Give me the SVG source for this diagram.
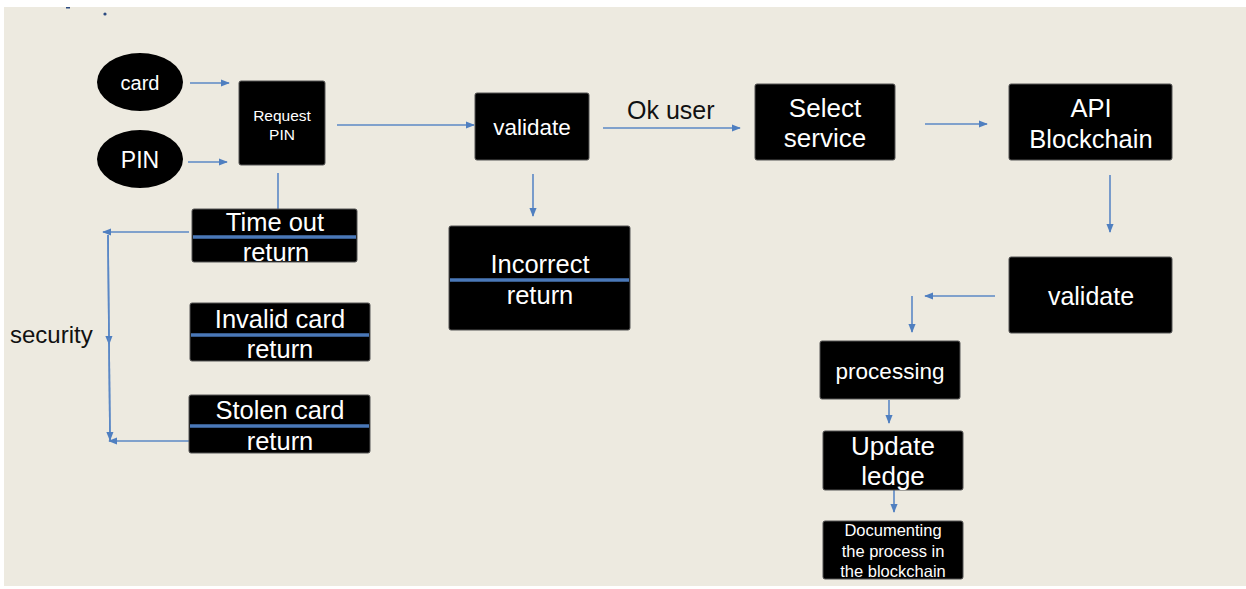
<svg xmlns="http://www.w3.org/2000/svg" width="1246" height="589" viewBox="0 0 1246 589">
  <defs>
    <marker id="arr" viewBox="0 0 10 10" refX="9" refY="5" markerWidth="9" markerHeight="9" orient="auto" markerUnits="userSpaceOnUse">
      <path d="M0,1 L10,5 L0,9 z" fill="#4f7fc0"/>
    </marker>
    <style>
      .box { fill: #000; stroke: #555; stroke-width: 1; }
      .t { fill: #fff; font-family: "Liberation Sans", Arial, sans-serif; text-anchor: middle; dominant-baseline: central; }
      .lbl { fill: #111; font-family: "Liberation Sans", Arial, sans-serif; }
      .sep { stroke: #4a78b8; stroke-width: 3.5; }
      .c { stroke: #5b88c6; stroke-width: 1.6; fill: none; }
      .c.a { marker-end: url(#arr); }
    </style>
  </defs>

  <rect width="1246" height="589" fill="#fff"/>
  <rect x="4" y="7" width="1242" height="579" fill="#edeae0"/>
  <circle cx="105" cy="14" r="1.6" fill="#2b4a80"/>
  <rect x="66" y="7" width="4" height="1.5" fill="#2b4a80"/>

  <!-- connectors -->
  <g id="connectors">
    <line class="c a" x1="190" y1="83" x2="229" y2="83"/>
    <line class="c a" x1="188" y1="162" x2="227" y2="162"/>
    <line class="c a" x1="337" y1="125" x2="474" y2="125"/>
    <line class="c a" x1="278" y1="173" x2="278" y2="217"/>
    <line class="c a" x1="189" y1="232" x2="103" y2="232"/>
    <line class="c" x1="108" y1="235" x2="110" y2="441"/>
    <line class="c a" x1="108" y1="235" x2="109" y2="344"/>
    <line class="c a" x1="109" y1="338" x2="110" y2="440"/>
    <line class="c a" x1="194" y1="441" x2="109" y2="441"/>
    <line class="c a" x1="533" y1="174" x2="533" y2="216"/>
    <line class="c a" x1="603" y1="128" x2="740" y2="128"/>
    <line class="c a" x1="925" y1="124" x2="987" y2="124"/>
    <line class="c a" x1="1110" y1="175" x2="1110" y2="232"/>
    <line class="c a" x1="995" y1="296" x2="925" y2="296"/>
    <line class="c a" x1="912" y1="296" x2="912" y2="332"/>
    <line class="c a" x1="889" y1="400" x2="889" y2="423"/>
    <line class="c a" x1="894" y1="490" x2="894" y2="512"/>
  </g>

  <g id="card">
    <ellipse cx="140" cy="82" rx="43" ry="29" fill="#000"/>
    <text class="t" x="140" y="83" font-size="20">card</text>
  </g>
  <g id="pin">
    <ellipse cx="140" cy="159" rx="43" ry="29" fill="#000"/>
    <text class="t" x="140" y="160" font-size="23">PIN</text>
  </g>
  <g id="request-pin">
    <rect class="box" x="239" y="81" width="86" height="84" rx="2"/>
    <text class="t" x="282" y="115" font-size="15.5">Request</text>
    <text class="t" x="282" y="134" font-size="15.5">PIN</text>
  </g>
  <g id="timeout">
    <rect class="box" x="192" y="209" width="165" height="53" rx="2"/>
    <line class="sep" x1="193" y1="237" x2="356" y2="237"/>
    <text class="t" x="275" y="222" font-size="25.5">Time out</text>
    <text class="t" x="276" y="252" font-size="25.5">return</text>
  </g>
  <g id="invalid-card">
    <rect class="box" x="190" y="303" width="180" height="58" rx="2"/>
    <line class="sep" x1="191" y1="335" x2="369" y2="335"/>
    <text class="t" x="280" y="319" font-size="25.5">Invalid card</text>
    <text class="t" x="280" y="349" font-size="25.5">return</text>
  </g>
  <g id="stolen-card">
    <rect class="box" x="189" y="395" width="181" height="58" rx="2"/>
    <line class="sep" x1="190" y1="426" x2="369" y2="426"/>
    <text class="t" x="280" y="410" font-size="25.5">Stolen card</text>
    <text class="t" x="280" y="441" font-size="25.5">return</text>
  </g>
  <text class="lbl" x="10" y="343" font-size="24">security</text>

  <g id="validate-1">
    <rect class="box" x="475" y="93" width="114" height="67" rx="2"/>
    <text class="t" x="532" y="127" font-size="22.5">validate</text>
  </g>
  <g id="incorrect">
    <rect class="box" x="449" y="226" width="181" height="104" rx="2"/>
    <line class="sep" x1="450" y1="280" x2="629" y2="280"/>
    <text class="t" x="540" y="264" font-size="25.5">Incorrect</text>
    <text class="t" x="540" y="295" font-size="25.5">return</text>
  </g>
  <text class="lbl" x="627" y="119" font-size="25">Ok user</text>

  <g id="select-service">
    <rect class="box" x="755" y="84" width="140" height="76" rx="2"/>
    <text class="t" x="825" y="108" font-size="26">Select</text>
    <text class="t" x="825" y="138" font-size="26">service</text>
  </g>
  <g id="api-blockchain">
    <rect class="box" x="1009" y="84" width="163" height="76" rx="2"/>
    <text class="t" x="1091" y="108" font-size="25.5">API</text>
    <text class="t" x="1091" y="139" font-size="25.5">Blockchain</text>
  </g>
  <g id="validate-2">
    <rect class="box" x="1009" y="257" width="163" height="76" rx="2"/>
    <text class="t" x="1091" y="296" font-size="25">validate</text>
  </g>
  <g id="processing">
    <rect class="box" x="820" y="341" width="140" height="58" rx="2"/>
    <text class="t" x="890" y="371" font-size="22.5">processing</text>
  </g>
  <g id="update-ledge">
    <rect class="box" x="823" y="431" width="140" height="59" rx="2"/>
    <text class="t" x="893" y="446" font-size="26">Update</text>
    <text class="t" x="893" y="476" font-size="26">ledge</text>
  </g>
  <g id="documenting">
    <rect class="box" x="823" y="521" width="140" height="58" rx="2"/>
    <text class="t" x="893" y="530" font-size="16.5">Documenting</text>
    <text class="t" x="893" y="551" font-size="16.5">the process in</text>
    <text class="t" x="893" y="571" font-size="16.5">the blockchain</text>
  </g>
</svg>
